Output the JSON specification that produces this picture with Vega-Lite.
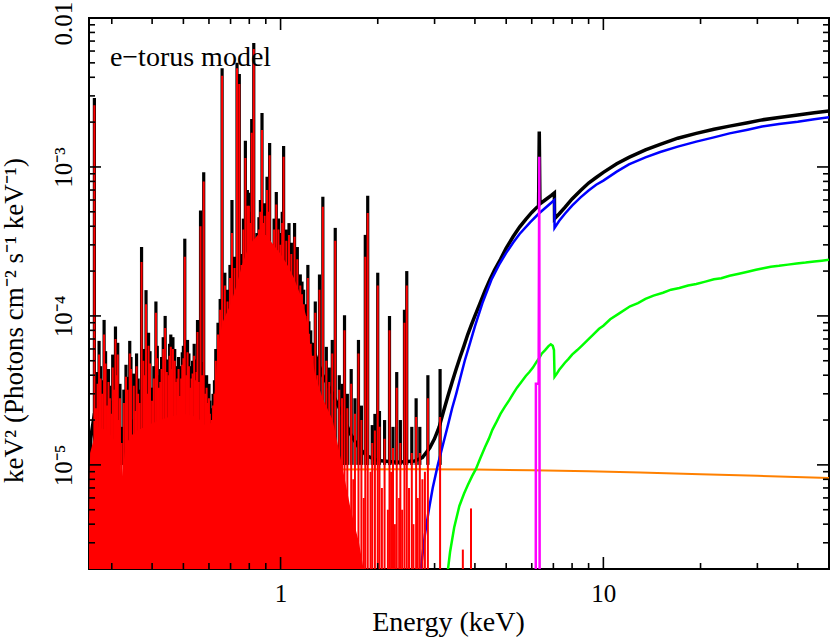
{
"$schema": "https://vega.github.io/schema/vega-lite/v6.json",
"width": 740, "height": 551,
"autosize": {"type": "none"},
"padding": {"left": 89, "top": 18, "right": 2, "bottom": 70},
"background": "white",
"config": {
 "view": {"stroke": "black", "strokeWidth": 2},
 "font": "Liberation Serif, Times New Roman, serif",
 "axis": {"domain": false, "grid": false, "ticks": true, "tickSize": 0, "labelColor": "black", "titleColor": "black", "labelFont": "Liberation Serif, Times New Roman, serif", "titleFont": "Liberation Serif, Times New Roman, serif", "labelFontSize": 25, "titleFontSize": 27, "titleFontWeight": "normal"}
},
"datasets": {
 "orange": [{"e":0.255,"v":3.0e-6},{"e":0.27,"v":3.5e-6},{"e":0.30,"v":4.3e-6},{"e":0.33,"v":5.0e-6},{"e":0.365,"v":6.0e-6},{"e":0.42,"v":6.9e-6},{"e":0.50,"v":7.5e-6},{"e":0.60,"v":8.1e-6},{"e":0.75,"v":8.7e-6},{"e":0.90,"v":9.0e-6},{"e":1.1,"v":9.2e-6},{"e":1.5,"v":9.3e-6},{"e":2.5,"v":9.35e-6},{"e":4,"v":9.3e-6},{"e":6,"v":9.2e-6},{"e":9,"v":9.05e-6},{"e":13,"v":8.9e-6},{"e":20,"v":8.65e-6},{"e":30,"v":8.45e-6},{"e":50,"v":8.15e-6}],
 "black": [{"e":0.255,"v":4e-6},{"e":0.258,"v":1.5e-5},{"e":0.265,"v":2.2e-5},{"e":0.275,"v":2.5e-5},{"e":0.29,"v":2.2e-5},{"e":0.305,"v":2.0e-5},{"e":0.318,"v":1.4e-5},{"e":0.324,"v":1.1e-5},{"e":0.33,"v":1.3e-5},{"e":0.345,"v":1.9e-5},{"e":0.36,"v":2.1e-5},{"e":0.38,"v":2.3e-5},{"e":0.40,"v":2.4e-5},{"e":0.43,"v":2.6e-5},{"e":0.46,"v":2.7e-5},{"e":0.50,"v":2.7e-5},{"e":0.54,"v":2.6e-5},{"e":0.58,"v":2.1e-5},{"e":0.60,"v":1.7e-5},{"e":0.615,"v":1.4e-5},{"e":0.63,"v":3.0e-5},{"e":0.64,"v":5e-5},{"e":0.66,"v":7.7e-5},{"e":0.70,"v":1.0e-4},{"e":0.73,"v":1.35e-4},{"e":0.76,"v":1.9e-4},{"e":0.80,"v":2.6e-4},{"e":0.85,"v":3.0e-4},{"e":0.90,"v":3.0e-4},{"e":0.95,"v":2.6e-4},{"e":1.00,"v":2.2e-4},{"e":1.05,"v":1.9e-4},{"e":1.10,"v":1.55e-4},{"e":1.15,"v":1.2e-4},{"e":1.20,"v":8.5e-5},{"e":1.24,"v":6.5e-5},{"e":1.28,"v":5.5e-5},{"e":1.35,"v":4.0e-5},{"e":1.45,"v":3.0e-5},{"e":1.55,"v":2.2e-5},{"e":1.65,"v":1.6e-5},{"e":1.75,"v":1.3e-5},{"e":1.85,"v":1.15e-5},{"e":2.0,"v":1.07e-5},{"e":2.3,"v":1.04e-5},{"e":2.6,"v":1.06e-5},{"e":2.75,"v":1.12e-5},{"e":2.9,"v":1.3e-5},{"e":3.0,"v":1.5e-5},{"e":3.1,"v":1.8e-5},{"e":3.2,"v":2.3e-5},{"e":3.3,"v":2.9e-5},{"e":3.4,"v":3.6e-5},{"e":3.5,"v":4.4e-5},{"e":3.6,"v":5.3e-5},{"e":3.7,"v":6.3e-5},{"e":3.8,"v":7.5e-5},{"e":3.9,"v":8.7e-5},{"e":4.0,"v":1.0e-4},{"e":4.15,"v":1.22e-4},{"e":4.3,"v":1.48e-4},{"e":4.45,"v":1.75e-4},{"e":4.6,"v":2.03e-4},{"e":4.8,"v":2.4e-4},{"e":5.0,"v":2.85e-4},{"e":5.25,"v":3.4e-4},{"e":5.5,"v":3.95e-4},{"e":5.75,"v":4.45e-4},{"e":6.0,"v":4.95e-4},{"e":6.3,"v":5.5e-4},{"e":6.33,"v":1.73e-3},{"e":6.36,"v":5.65e-4},{"e":6.6,"v":6.0e-4},{"e":6.9,"v":6.45e-4},{"e":7.05,"v":6.7e-4},{"e":7.06,"v":4.5e-4},{"e":7.3,"v":4.85e-4},{"e":7.6,"v":5.35e-4},{"e":8.0,"v":6.1e-4},{"e":8.5,"v":6.95e-4},{"e":9.0,"v":7.8e-4},{"e":9.5,"v":8.5e-4},{"e":10,"v":9.2e-4},{"e":11,"v":1.05e-3},{"e":12,"v":1.16e-3},{"e":13.5,"v":1.3e-3},{"e":15,"v":1.42e-3},{"e":17,"v":1.56e-3},{"e":19.4,"v":1.68e-3},{"e":22,"v":1.79e-3},{"e":24.6,"v":1.88e-3},{"e":28,"v":1.98e-3},{"e":31,"v":2.07e-3},{"e":35,"v":2.15e-3},{"e":40,"v":2.23e-3},{"e":45,"v":2.31e-3},{"e":50,"v":2.38e-3}],
 "blue": [{"e":2.65,"v":1.4e-6},{"e":2.72,"v":2.0e-6},{"e":2.8,"v":3.4e-6},{"e":2.88,"v":5.0e-6},{"e":2.96,"v":7.0e-6},{"e":3.07,"v":1.0e-5},{"e":3.18,"v":1.35e-5},{"e":3.3,"v":1.85e-5},{"e":3.4,"v":2.4e-5},{"e":3.5,"v":3.0e-5},{"e":3.6,"v":3.8e-5},{"e":3.72,"v":5.0e-5},{"e":3.84,"v":6.3e-5},{"e":4.0,"v":8.5e-5},{"e":4.22,"v":1.22e-4},{"e":4.5,"v":1.75e-4},{"e":4.75,"v":2.2e-4},{"e":5.0,"v":2.65e-4},{"e":5.25,"v":3.1e-4},{"e":5.5,"v":3.55e-4},{"e":5.93,"v":4.25e-4},{"e":6.3,"v":4.85e-4},{"e":6.7,"v":5.45e-4},{"e":7.05,"v":6.0e-4},{"e":7.06,"v":3.9e-4},{"e":7.3,"v":4.35e-4},{"e":7.6,"v":4.85e-4},{"e":8.0,"v":5.5e-4},{"e":8.5,"v":6.25e-4},{"e":9.0,"v":6.95e-4},{"e":9.5,"v":7.6e-4},{"e":10,"v":8.1e-4},{"e":11,"v":9.3e-4},{"e":12,"v":1.04e-3},{"e":13.5,"v":1.16e-3},{"e":15,"v":1.26e-3},{"e":17,"v":1.37e-3},{"e":19.4,"v":1.48e-3},{"e":22,"v":1.58e-3},{"e":24.6,"v":1.68e-3},{"e":28,"v":1.78e-3},{"e":31,"v":1.87e-3},{"e":35,"v":1.94e-3},{"e":40,"v":2.01e-3},{"e":45,"v":2.09e-3},{"e":50,"v":2.16e-3}],
 "green": [{"e":3.25,"v":1.5e-6},{"e":3.35,"v":2.6e-6},{"e":3.45,"v":3.8e-6},{"e":3.58,"v":5.3e-6},{"e":3.7,"v":6.4e-6},{"e":3.8,"v":7.3e-6},{"e":3.92,"v":8.4e-6},{"e":4.03,"v":9.4e-6},{"e":4.15,"v":1.1e-5},{"e":4.3,"v":1.32e-5},{"e":4.42,"v":1.5e-5},{"e":4.53,"v":1.72e-5},{"e":4.67,"v":1.95e-5},{"e":4.8,"v":2.2e-5},{"e":4.95,"v":2.45e-5},{"e":5.11,"v":2.72e-5},{"e":5.25,"v":3.0e-5},{"e":5.4,"v":3.3e-5},{"e":5.57,"v":3.6e-5},{"e":5.75,"v":3.95e-5},{"e":5.9,"v":4.2e-5},{"e":6.05,"v":4.5e-5},{"e":6.2,"v":4.9e-5},{"e":6.32,"v":5.2e-5},{"e":6.45,"v":5.6e-5},{"e":6.6,"v":5.9e-5},{"e":6.75,"v":6.25e-5},{"e":6.87,"v":6.45e-5},{"e":6.97,"v":6.3e-5},{"e":7.03,"v":5.9e-5},{"e":7.06,"v":3.9e-5},{"e":7.15,"v":4.05e-5},{"e":7.3,"v":4.35e-5},{"e":7.45,"v":4.6e-5},{"e":7.6,"v":4.85e-5},{"e":7.8,"v":5.15e-5},{"e":8.0,"v":5.5e-5},{"e":8.3,"v":5.9e-5},{"e":8.6,"v":6.35e-5},{"e":8.95,"v":6.9e-5},{"e":9.3,"v":7.5e-5},{"e":9.7,"v":8.2e-5},{"e":10.0,"v":8.6e-5},{"e":10.5,"v":9.5e-5},{"e":11.2,"v":1.04e-4},{"e":12.1,"v":1.16e-4},{"e":12.8,"v":1.22e-4},{"e":13.5,"v":1.3e-4},{"e":14.3,"v":1.37e-4},{"e":15.3,"v":1.43e-4},{"e":16.2,"v":1.5e-4},{"e":17.2,"v":1.54e-4},{"e":18.3,"v":1.6e-4},{"e":19.4,"v":1.64e-4},{"e":20.7,"v":1.7e-4},{"e":22,"v":1.76e-4},{"e":23.2,"v":1.79e-4},{"e":24.6,"v":1.86e-4},{"e":26.3,"v":1.92e-4},{"e":28,"v":1.98e-4},{"e":29.7,"v":2.04e-4},{"e":31.3,"v":2.09e-4},{"e":33,"v":2.14e-4},{"e":35,"v":2.17e-4},{"e":37.3,"v":2.21e-4},{"e":39.7,"v":2.25e-4},{"e":42.3,"v":2.28e-4},{"e":45,"v":2.32e-4},{"e":47.5,"v":2.35e-4},{"e":50,"v":2.38e-4}],
 "magenta": [{"e":6.17,"v":1e-7},{"e":6.18,"v":3.5e-5},{"e":6.3,"v":3.5e-5},{"e":6.33,"v":1.17e-3},{"e":6.355,"v":1e-7}],
 "env": [{"e":0.254,"v":2.5e-6},{"e":0.257,"v":1.2e-5},{"e":0.27,"v":1.8e-5},{"e":0.29,"v":1.7e-5},{"e":0.31,"v":1.4e-5},{"e":0.322,"v":8e-6},{"e":0.332,"v":1.4e-5},{"e":0.36,"v":1.7e-5},{"e":0.40,"v":1.9e-5},{"e":0.45,"v":2.1e-5},{"e":0.50,"v":2.2e-5},{"e":0.55,"v":2.1e-5},{"e":0.59,"v":1.8e-5},{"e":0.61,"v":1.6e-5},{"e":0.625,"v":3.0e-5},{"e":0.64,"v":6e-5},{"e":0.66,"v":9e-5},{"e":0.70,"v":1.2e-4},{"e":0.73,"v":1.6e-4},{"e":0.76,"v":2.2e-4},{"e":0.80,"v":3.0e-4},{"e":0.85,"v":3.5e-4},{"e":0.90,"v":3.5e-4},{"e":0.95,"v":3.0e-4},{"e":1.00,"v":2.6e-4},{"e":1.05,"v":2.2e-4},{"e":1.10,"v":1.8e-4},{"e":1.15,"v":1.4e-4},{"e":1.20,"v":1.0e-4},{"e":1.24,"v":6e-5},{"e":1.28,"v":4e-5},{"e":1.35,"v":2.8e-5},{"e":1.45,"v":2.0e-5},{"e":1.55,"v":1.0e-5},{"e":1.65,"v":5e-6},{"e":1.75,"v":3e-6},{"e":1.85,"v":1.5e-6}],
 "lines": [
{"e":0.265,"r":2.6e-3,"k":2.9e-3},{"e":0.268,"r":2.4e-5,"k":3.0e-5},{"e":0.271,"r":3.5e-5,"k":4.2e-5},{"e":0.274,"r":5.5e-5,"k":6.8e-5},{"e":0.277,"r":3.8e-5,"k":4.6e-5},{"e":0.280,"r":3.0e-5,"k":3.7e-5},{"e":0.284,"r":7.5e-5,"k":9.4e-5},{"e":0.287,"r":4.8e-5,"k":5.8e-5},{"e":0.290,"r":2.5e-5,"k":3.0e-5},{"e":0.293,"r":3.6e-5,"k":4.4e-5},{"e":0.296,"r":2.8e-5,"k":3.4e-5},{"e":0.299,"r":2.2e-5,"k":2.7e-5},{"e":0.302,"r":4.5e-5,"k":5.5e-5},{"e":0.305,"r":3.2e-5,"k":3.9e-5},{"e":0.308,"r":7.0e-5,"k":8.5e-5},{"e":0.310,"r":4.0e-5,"k":4.9e-5},{"e":0.313,"r":5.5e-5,"k":6.6e-5},{"e":0.315,"r":2.0e-5,"k":2.4e-5},{"e":0.318,"r":2.8e-5,"k":3.5e-5},{"e":0.322,"r":1.4e-5,"k":1.8e-5},{"e":0.327,"r":2.6e-5,"k":3.2e-5},{"e":0.332,"r":3.9e-5,"k":4.7e-5},{"e":0.336,"r":3.2e-5,"k":3.9e-5},{"e":0.341,"r":5.6e-5,"k":6.8e-5},{"e":0.344,"r":4.4e-5,"k":5.3e-5},{"e":0.347,"r":1.6e-5,"k":2.0e-5},{"e":0.351,"r":3.4e-5,"k":4.1e-5},{"e":0.355,"r":2.3e-5,"k":2.8e-5},{"e":0.358,"r":4.6e-5,"k":5.6e-5},{"e":0.362,"r":3.0e-5,"k":3.8e-5},{"e":0.366,"r":2.6e-5,"k":3.2e-5},{"e":0.371,"r":2.3e-4,"k":2.9e-4},{"e":0.376,"r":5.0e-5,"k":6.0e-5},{"e":0.380,"r":4.0e-5,"k":4.9e-5},{"e":0.383,"r":1.2e-4,"k":1.49e-4},{"e":0.386,"r":3.0e-5,"k":3.7e-5},{"e":0.390,"r":6.3e-5,"k":7.7e-5},{"e":0.394,"r":4.8e-5,"k":5.8e-5},{"e":0.400,"r":2.7e-5,"k":3.3e-5},{"e":0.405,"r":3.8e-5,"k":4.6e-5},{"e":0.411,"r":1.05e-4,"k":1.25e-4},{"e":0.415,"r":5.2e-5,"k":6.3e-5},{"e":0.420,"r":3.3e-5,"k":4.0e-5},{"e":0.424,"r":3.6e-5,"k":4.4e-5},{"e":0.428,"r":4.4e-5,"k":5.3e-5},{"e":0.433,"r":6.0e-5,"k":7.2e-5},{"e":0.439,"r":8.3e-5,"k":1.0e-4},{"e":0.444,"r":4.2e-5,"k":5.1e-5},{"e":0.450,"r":4.0e-5,"k":5.0e-5},{"e":0.453,"r":5.4e-5,"k":6.5e-5},{"e":0.457,"r":6.2e-5,"k":7.5e-5},{"e":0.461,"r":4.4e-5,"k":5.3e-5},{"e":0.464,"r":6.0e-5,"k":7.2e-5},{"e":0.470,"r":5.0e-5,"k":6.0e-5},{"e":0.474,"r":3.6e-5,"k":4.4e-5},{"e":0.479,"r":3.8e-5,"k":4.6e-5},{"e":0.483,"r":4.4e-5,"k":5.3e-5},{"e":0.488,"r":2.9e-5,"k":3.5e-5},{"e":0.492,"r":3.8e-5,"k":4.6e-5},{"e":0.496,"r":4.7e-5,"k":5.7e-5},{"e":0.500,"r":5.2e-5,"k":6.3e-5},{"e":0.505,"r":2.5e-4,"k":3.3e-4},{"e":0.510,"r":4.0e-5,"k":4.9e-5},{"e":0.515,"r":5.7e-5,"k":6.9e-5},{"e":0.520,"r":4.6e-5,"k":5.6e-5},{"e":0.525,"r":3.3e-5,"k":4.0e-5},{"e":0.530,"r":3.8e-5,"k":4.6e-5},{"e":0.534,"r":4.1e-5,"k":5.0e-5},{"e":0.540,"r":5.4e-5,"k":6.5e-5},{"e":0.545,"r":3.7e-5,"k":4.5e-5},{"e":0.549,"r":4.2e-5,"k":5.1e-5},{"e":0.553,"r":7.8e-5,"k":9.4e-5},{"e":0.558,"r":3.6e-5,"k":4.4e-5},{"e":0.565,"r":4.0e-4,"k":5.1e-4},{"e":0.571,"r":4.0e-5,"k":4.9e-5},{"e":0.578,"r":8.0e-4,"k":9.2e-4},{"e":0.584,"r":3.0e-5,"k":3.7e-5},{"e":0.590,"r":3.3e-5,"k":4.0e-5},{"e":0.595,"r":2.6e-5,"k":3.2e-5},{"e":0.600,"r":2.8e-5,"k":3.5e-5},{"e":0.604,"r":2.2e-5,"k":2.7e-5},{"e":0.608,"r":1.9e-5,"k":2.3e-5},{"e":0.613,"r":2.0e-5,"k":2.4e-5},{"e":0.618,"r":2.5e-5,"k":3.0e-5},{"e":0.624,"r":3.0e-5,"k":3.7e-5},{"e":0.630,"r":5.0e-5,"k":6.0e-5},{"e":0.640,"r":7.5e-5,"k":9.0e-5},{"e":0.650,"r":1.1e-4,"k":1.3e-4},{"e":0.659,"r":4.1e-3,"k":4.6e-3},{"e":0.672,"r":1.6e-4,"k":1.95e-4},{"e":0.685,"r":1.25e-4,"k":1.5e-4},{"e":0.697,"r":1.8e-4,"k":2.2e-4},{"e":0.707,"r":3.6e-4,"k":6.0e-4},{"e":0.720,"r":2.1e-4,"k":2.5e-4},{"e":0.733,"r":4.6e-3,"k":5.0e-3},{"e":0.745,"r":3.6e-3,"k":4.2e-3},{"e":0.757,"r":2.2e-4,"k":2.6e-4},{"e":0.767,"r":3.8e-4,"k":4.5e-4},{"e":0.778,"r":1.15e-3,"k":1.5e-3},{"e":0.789,"r":5.5e-4,"k":7.0e-4},{"e":0.798,"r":5.5e-4,"k":6.7e-4},{"e":0.806,"r":4.2e-4,"k":5.0e-4},{"e":0.814,"r":1.7e-3,"k":2.1e-3},{"e":0.826,"r":6.2e-3,"k":6.8e-3},{"e":0.845,"r":3.0e-4,"k":3.6e-4},{"e":0.857,"r":3.8e-4,"k":4.6e-4},{"e":0.866,"r":5.0e-4,"k":6.0e-4},{"e":0.876,"r":1.77e-3,"k":2.3e-3},{"e":0.884,"r":4.2e-4,"k":5.0e-4},{"e":0.893,"r":4.7e-4,"k":5.7e-4},{"e":0.908,"r":7.0e-4,"k":8.6e-4},{"e":0.916,"r":5.0e-4,"k":6.0e-4},{"e":0.925,"r":1.2e-3,"k":1.45e-3},{"e":0.955,"r":3.8e-4,"k":4.5e-4},{"e":0.970,"r":5.6e-4,"k":6.8e-4},{"e":0.985,"r":3.8e-4,"k":4.5e-4},{"e":0.999,"r":3.0e-4,"k":3.6e-4},{"e":1.012,"r":4.2e-4,"k":5.0e-4},{"e":1.022,"r":1.17e-3,"k":1.38e-3},{"e":1.042,"r":3.2e-4,"k":3.8e-4},{"e":1.062,"r":3.5e-4,"k":4.2e-4},{"e":1.080,"r":2.6e-4,"k":3.1e-4},{"e":1.105,"r":3.4e-4,"k":4.2e-4},{"e":1.127,"r":2.4e-4,"k":2.9e-4},{"e":1.151,"r":1.6e-4,"k":1.9e-4},{"e":1.165,"r":1.4e-4,"k":1.7e-4},{"e":1.179,"r":1.2e-4,"k":1.5e-4},{"e":1.195,"r":1.0e-4,"k":1.2e-4},{"e":1.215,"r":1.8e-4,"k":2.2e-4},{"e":1.224,"r":7.6e-5,"k":9.2e-5},{"e":1.240,"r":6.5e-5,"k":8.0e-5},{"e":1.259,"r":5.4e-5,"k":6.6e-5},{"e":1.281,"r":1.05e-4,"k":1.25e-4},{"e":1.300,"r":4.0e-5,"k":5.0e-5},{"e":1.320,"r":1.5e-4,"k":1.9e-4},{"e":1.352,"r":5.4e-4,"k":6.3e-4},{"e":1.386,"r":5.0e-5,"k":6.2e-5},{"e":1.415,"r":3.6e-5,"k":4.5e-5},{"e":1.446,"r":5.6e-5,"k":6.9e-5},{"e":1.477,"r":3.2e-4,"k":3.9e-4},{"e":1.520,"r":3.2e-5,"k":4.0e-5},{"e":1.550,"r":2.8e-5,"k":3.5e-5},{"e":1.578,"r":8.0e-5,"k":1.01e-4},{"e":1.610,"r":2.4e-5,"k":3.0e-5},{"e":1.655,"r":3.5e-5,"k":4.4e-5},{"e":1.680,"r":8e-6},{"e":1.700,"r":2.2e-5,"k":2.8e-5},{"e":1.743,"r":5.6e-5,"k":6.9e-5},{"e":1.780,"r":2.0e-5,"k":2.5e-5},{"e":1.810,"r":6e-6},{"e":1.830,"r":2.5e-4,"k":3.5e-4},{"e":1.862,"r":4.9e-4,"k":6.4e-4},{"e":1.900,"r":9e-6},{"e":1.923,"r":1.4e-5,"k":1.85e-5},{"e":1.960,"r":1.7e-5,"k":2.2e-5},{"e":2.000,"r":1.6e-4,"k":1.95e-4},{"e":2.025,"r":1.8e-5,"k":2.3e-5},{"e":2.060,"r":7e-6},{"e":2.100,"r":1.5e-5,"k":2.0e-5},{"e":2.150,"r":5e-6},{"e":2.175,"r":8.0e-5,"k":1.0e-4},{"e":2.200,"r":9e-6},{"e":2.230,"r":1.3e-5,"k":1.8e-5},{"e":2.260,"r":4e-6},{"e":2.290,"r":3.3e-5,"k":4.2e-5},{"e":2.330,"r":6e-6},{"e":2.350,"r":1.4e-5,"k":2.0e-5},{"e":2.380,"r":5e-6},{"e":2.420,"r":9.0e-5,"k":1.1e-4},{"e":2.460,"r":1.6e-4,"k":2.0e-4},{"e":2.500,"r":7e-6},{"e":2.550,"r":1.2e-5,"k":1.8e-5},{"e":2.580,"r":4e-6},{"e":2.630,"r":2.1e-5,"k":2.8e-5},{"e":2.660,"r":6e-6},{"e":2.700,"r":1.2e-5,"k":1.8e-5},{"e":2.750,"r":8e-6},{"e":2.800,"r":9e-6},{"e":2.860,"r":2.8e-5,"k":4.0e-5},{"e":3.120,"r":2.1e-5,"k":4.4e-5},{"e":3.670,"r":2.7e-6},{"e":3.890,"r":5.1e-6}
 ],
 "label": [{"e":0.296,"v":0.00476,"t":"e−torus model"}],
 "xmaj": [{"e":1},{"e":10}],
 "xmin": [{"e":0.3},{"e":0.4},{"e":0.5},{"e":0.6},{"e":0.7},{"e":0.8},{"e":0.9},{"e":2},{"e":3},{"e":4},{"e":5},{"e":6},{"e":7},{"e":8},{"e":9},{"e":20},{"e":30},{"e":40}],
 "ymaj": [{"v":0.01},{"v":0.001},{"v":0.0001},{"v":0.00001}],
 "ymin": [{"v":0.000003},{"v":0.000004},{"v":0.000005},{"v":0.000006},{"v":0.000007},{"v":0.000008},{"v":0.000009},{"v":0.00002},{"v":0.00003},{"v":0.00004},{"v":0.00005},{"v":0.00006},{"v":0.00007},{"v":0.00008},{"v":0.00009},{"v":0.0002},{"v":0.0003},{"v":0.0004},{"v":0.0005},{"v":0.0006},{"v":0.0007},{"v":0.0008},{"v":0.0009},{"v":0.002},{"v":0.003},{"v":0.004},{"v":0.005},{"v":0.006},{"v":0.007},{"v":0.008},{"v":0.009}]
},
"layer": [
 {"data": {"name": "orange"}, "mark": {"type": "line", "color": "#ff8000", "strokeWidth": 2, "clip": true},
  "encoding": {
   "x": {"field": "e", "type": "quantitative", "scale": {"type": "log", "domain": [0.255, 50], "nice": false},
     "axis": {"orient": "bottom", "values": [1, 10], "format": "d", "tickSize": 0, "labelPadding": 32, "labelBaseline": "alphabetic", "title": "Energy (keV)", "titleFontSize": 28, "titleX": 359, "titleY": 61, "titleAlign": "center", "titleBaseline": "alphabetic"}},
   "y": {"field": "v", "type": "quantitative", "scale": {"type": "log", "domain": [2e-6, 0.01], "nice": false},
     "axis": {"orient": "left", "values": [0.01, 0.001, 0.0001, 0.00001], "tickSize": 0, "labelPadding": 18, "labelAngle": -90, "labelAlign": "center", "labelBaseline": "alphabetic",
       "labelOffset": {"condition": {"test": "datum.value > 0.005", "value": 5}, "value": 0},
       "labelExpr": "datum.value > 0.005 ? '0.01' : datum.value > 0.0005 ? '10⁻³' : datum.value > 0.00005 ? '10⁻⁴' : '10⁻⁵'",
       "title": "keV² (Photons cm⁻² s⁻¹ keV⁻¹)", "titleFontSize": 27, "titleX": -67, "titleY": 302, "titleAngle": -90, "titleAlign": "center", "titleBaseline": "alphabetic"}}
  }},
 {"data": {"name": "black"}, "mark": {"type": "line", "color": "black", "strokeWidth": 3.5, "clip": true},
  "encoding": {
   "x": {"field": "e", "type": "quantitative"},
   "y": {"field": "v", "type": "quantitative"}
  }},
 {"data": {"name": "lines"}, "mark": {"type": "rule", "color": "black", "strokeWidth": 3.2, "clip": true},
  "encoding": {
   "x": {"field": "e", "type": "quantitative"},
   "y": {"field": "k", "type": "quantitative"},
   "y2": {"datum": 0.00001}
  }},
 {"data": {"name": "blue"}, "mark": {"type": "line", "color": "#0000ff", "strokeWidth": 2.5, "clip": true},
  "encoding": {
   "x": {"field": "e", "type": "quantitative"},
   "y": {"field": "v", "type": "quantitative"}
  }},
 {"data": {"name": "green"}, "mark": {"type": "line", "color": "#00ff00", "strokeWidth": 2.5, "clip": true},
  "encoding": {
   "x": {"field": "e", "type": "quantitative"},
   "y": {"field": "v", "type": "quantitative"}
  }},
 {"data": {"name": "env"}, "mark": {"type": "area", "color": "#ff0000", "clip": true},
  "encoding": {
   "x": {"field": "e", "type": "quantitative"},
   "y": {"field": "v", "type": "quantitative"},
   "y2": {"datum": 0.0000001}
  }},
 {"data": {"name": "lines"}, "mark": {"type": "rule", "color": "#ff0000", "strokeWidth": 2, "clip": true},
  "encoding": {
   "x": {"field": "e", "type": "quantitative"},
   "y": {"field": "r", "type": "quantitative"},
   "y2": {"datum": 0.0000001}
  }},
 {"data": {"name": "magenta"}, "mark": {"type": "line", "color": "#ff00ff", "strokeWidth": 2.5, "clip": true},
  "encoding": {
   "x": {"field": "e", "type": "quantitative"},
   "y": {"field": "v", "type": "quantitative"}
  }},
 {"data": {"name": "label"}, "mark": {"type": "text", "align": "left", "baseline": "alphabetic", "fontSize": 28, "font": "Liberation Serif, Times New Roman, serif", "color": "black"},
  "encoding": {
   "x": {"field": "e", "type": "quantitative"},
   "y": {"field": "v", "type": "quantitative"},
   "text": {"field": "t"}
  }},
 {"data": {"name": "xmaj"}, "mark": {"type": "rule", "color": "black", "strokeWidth": 1.6},
  "encoding": {"x": {"field": "e", "type": "quantitative"}, "y": {"datum": 0.000002, "type": "quantitative"}, "y2": {"datum": 0.000002407}}},
 {"data": {"name": "xmaj"}, "mark": {"type": "rule", "color": "black", "strokeWidth": 1.6},
  "encoding": {"x": {"field": "e", "type": "quantitative"}, "y": {"datum": 0.01, "type": "quantitative"}, "y2": {"datum": 0.008308}}},
 {"data": {"name": "xmin"}, "mark": {"type": "rule", "color": "black", "strokeWidth": 1.6},
  "encoding": {"x": {"field": "e", "type": "quantitative"}, "y": {"datum": 0.000002, "type": "quantitative"}, "y2": {"datum": 0.000002194}}},
 {"data": {"name": "xmin"}, "mark": {"type": "rule", "color": "black", "strokeWidth": 1.6},
  "encoding": {"x": {"field": "e", "type": "quantitative"}, "y": {"datum": 0.01, "type": "quantitative"}, "y2": {"datum": 0.009115}}},
 {"data": {"name": "ymaj"}, "mark": {"type": "rule", "color": "black", "strokeWidth": 1.6},
  "encoding": {"y": {"field": "v", "type": "quantitative"}, "x": {"datum": 0.255, "type": "quantitative"}, "x2": {"datum": 0.27779}}},
 {"data": {"name": "ymaj"}, "mark": {"type": "rule", "color": "black", "strokeWidth": 1.6},
  "encoding": {"y": {"field": "v", "type": "quantitative"}, "x": {"datum": 50, "type": "quantitative"}, "x2": {"datum": 45.898}}},
 {"data": {"name": "ymin"}, "mark": {"type": "rule", "color": "black", "strokeWidth": 1.6},
  "encoding": {"y": {"field": "v", "type": "quantitative"}, "x": {"datum": 0.255, "type": "quantitative"}, "x2": {"datum": 0.26615}}},
 {"data": {"name": "ymin"}, "mark": {"type": "rule", "color": "black", "strokeWidth": 1.6},
  "encoding": {"y": {"field": "v", "type": "quantitative"}, "x": {"datum": 50, "type": "quantitative"}, "x2": {"datum": 47.905}}}
]
}
